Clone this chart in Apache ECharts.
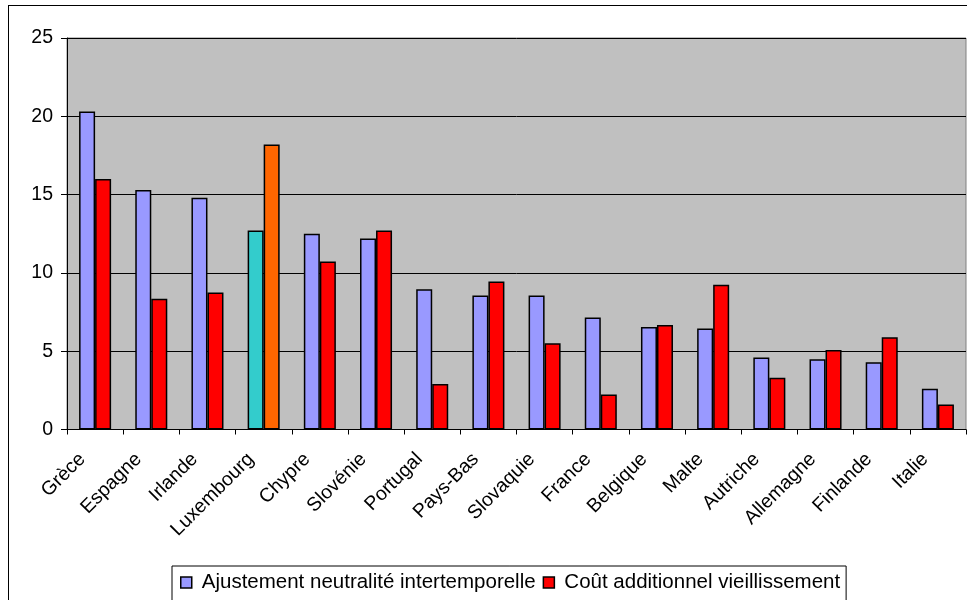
<!DOCTYPE html>
<html><head><meta charset="utf-8">
<script src="https://cdn.jsdelivr.net/npm/echarts@6/dist/echarts.min.js"></script>
<style>
html,body{margin:0;padding:0;background:#fff;}
#frame{position:absolute;left:8px;top:5px;width:1000px;height:700px;border:1px solid #000;box-sizing:border-box;}
#c{position:absolute;left:0;top:0;width:967px;height:600px;}
</style></head>
<body>
<div id="frame"></div>
<div id="c"></div>
<script>
const categories = ["Grèce","Espagne","Irlande","Luxembourg","Chypre","Slovénie","Portugal","Pays-Bas","Slovaquie","France","Belgique","Malte","Autriche","Allemagne","Finlande","Italie"];
const seriesNames = ["Ajustement neutralité intertemporelle","Coût additionnel vieillissement"];
const ajustement = [20.3,15.3,14.8,12.7,12.5,12.2,8.95,8.55,8.55,7.15,6.55,6.45,4.6,4.48,4.29,2.6];
const cout = [16.0,8.35,8.75,18.2,10.73,12.7,2.9,9.45,5.5,2.23,6.68,9.25,3.3,5.08,5.89,1.6];
const yTicks = {min:0,max:25,interval:5};
const highlight = "Luxembourg";
const colors = {a:"#9999FF",b:"#FF0000",ha:"#33CCCC",hb:"#FF6600"};

function build(vals, hi){
  return vals.map((v,i)=> categories[i]===highlight ? {value:v,itemStyle:{color:hi}} : v);
}
const chart = echarts.init(document.getElementById('c'),null,{renderer:'canvas'});
const font = "Liberation Sans, Arial, sans-serif";
chart.setOption({
  animation:false,
  textStyle:{fontFamily:font},
  grid:{left:67,top:38,right:1,bottom:170.5,show:true,backgroundColor:'#C0C0C0',borderColor:'#808080',borderWidth:1},
  legend:{top:566,left:172,icon:'rect',itemGap:7,itemWidth:11,itemHeight:11,borderColor:'#000',borderWidth:1,padding:[6,6,12,8],
    itemStyle:{borderColor:'#000',borderWidth:1.5},
    textStyle:{fontSize:20.5,color:'#000',fontFamily:font,padding:[0,0,0,5]},data:seriesNames},
  xAxis:{type:'category',data:categories,
    axisLine:{lineStyle:{color:'#000',width:1}},
    axisTick:{show:true,length:5,lineStyle:{color:'#000'}},
    axisLabel:{rotate:45,fontSize:19.5,color:'#000',margin:14,interval:0,padding:[0,18,0,0]}},
  yAxis:{type:'value',min:yTicks.min,max:yTicks.max,interval:yTicks.interval,
    axisLine:{show:true,lineStyle:{color:'#000'}},
    axisTick:{show:true,length:6,lineStyle:{color:'#000'}},
    axisLabel:{fontSize:19.5,color:'#000',margin:14},
    splitLine:{lineStyle:{color:'#000',width:1}}},
  series:[
    {name:seriesNames[0],type:'bar',data:build(ajustement,colors.ha),barGap:'0%',barCategoryGap:'43%',
     itemStyle:{color:colors.a,borderColor:'#000',borderWidth:1.5}},
    {name:seriesNames[1],type:'bar',data:build(cout,colors.hb),barGap:'0%',barCategoryGap:'43%',
     itemStyle:{color:colors.b,borderColor:'#000',borderWidth:1.5}}
  ]
});
</script>
</body></html>
